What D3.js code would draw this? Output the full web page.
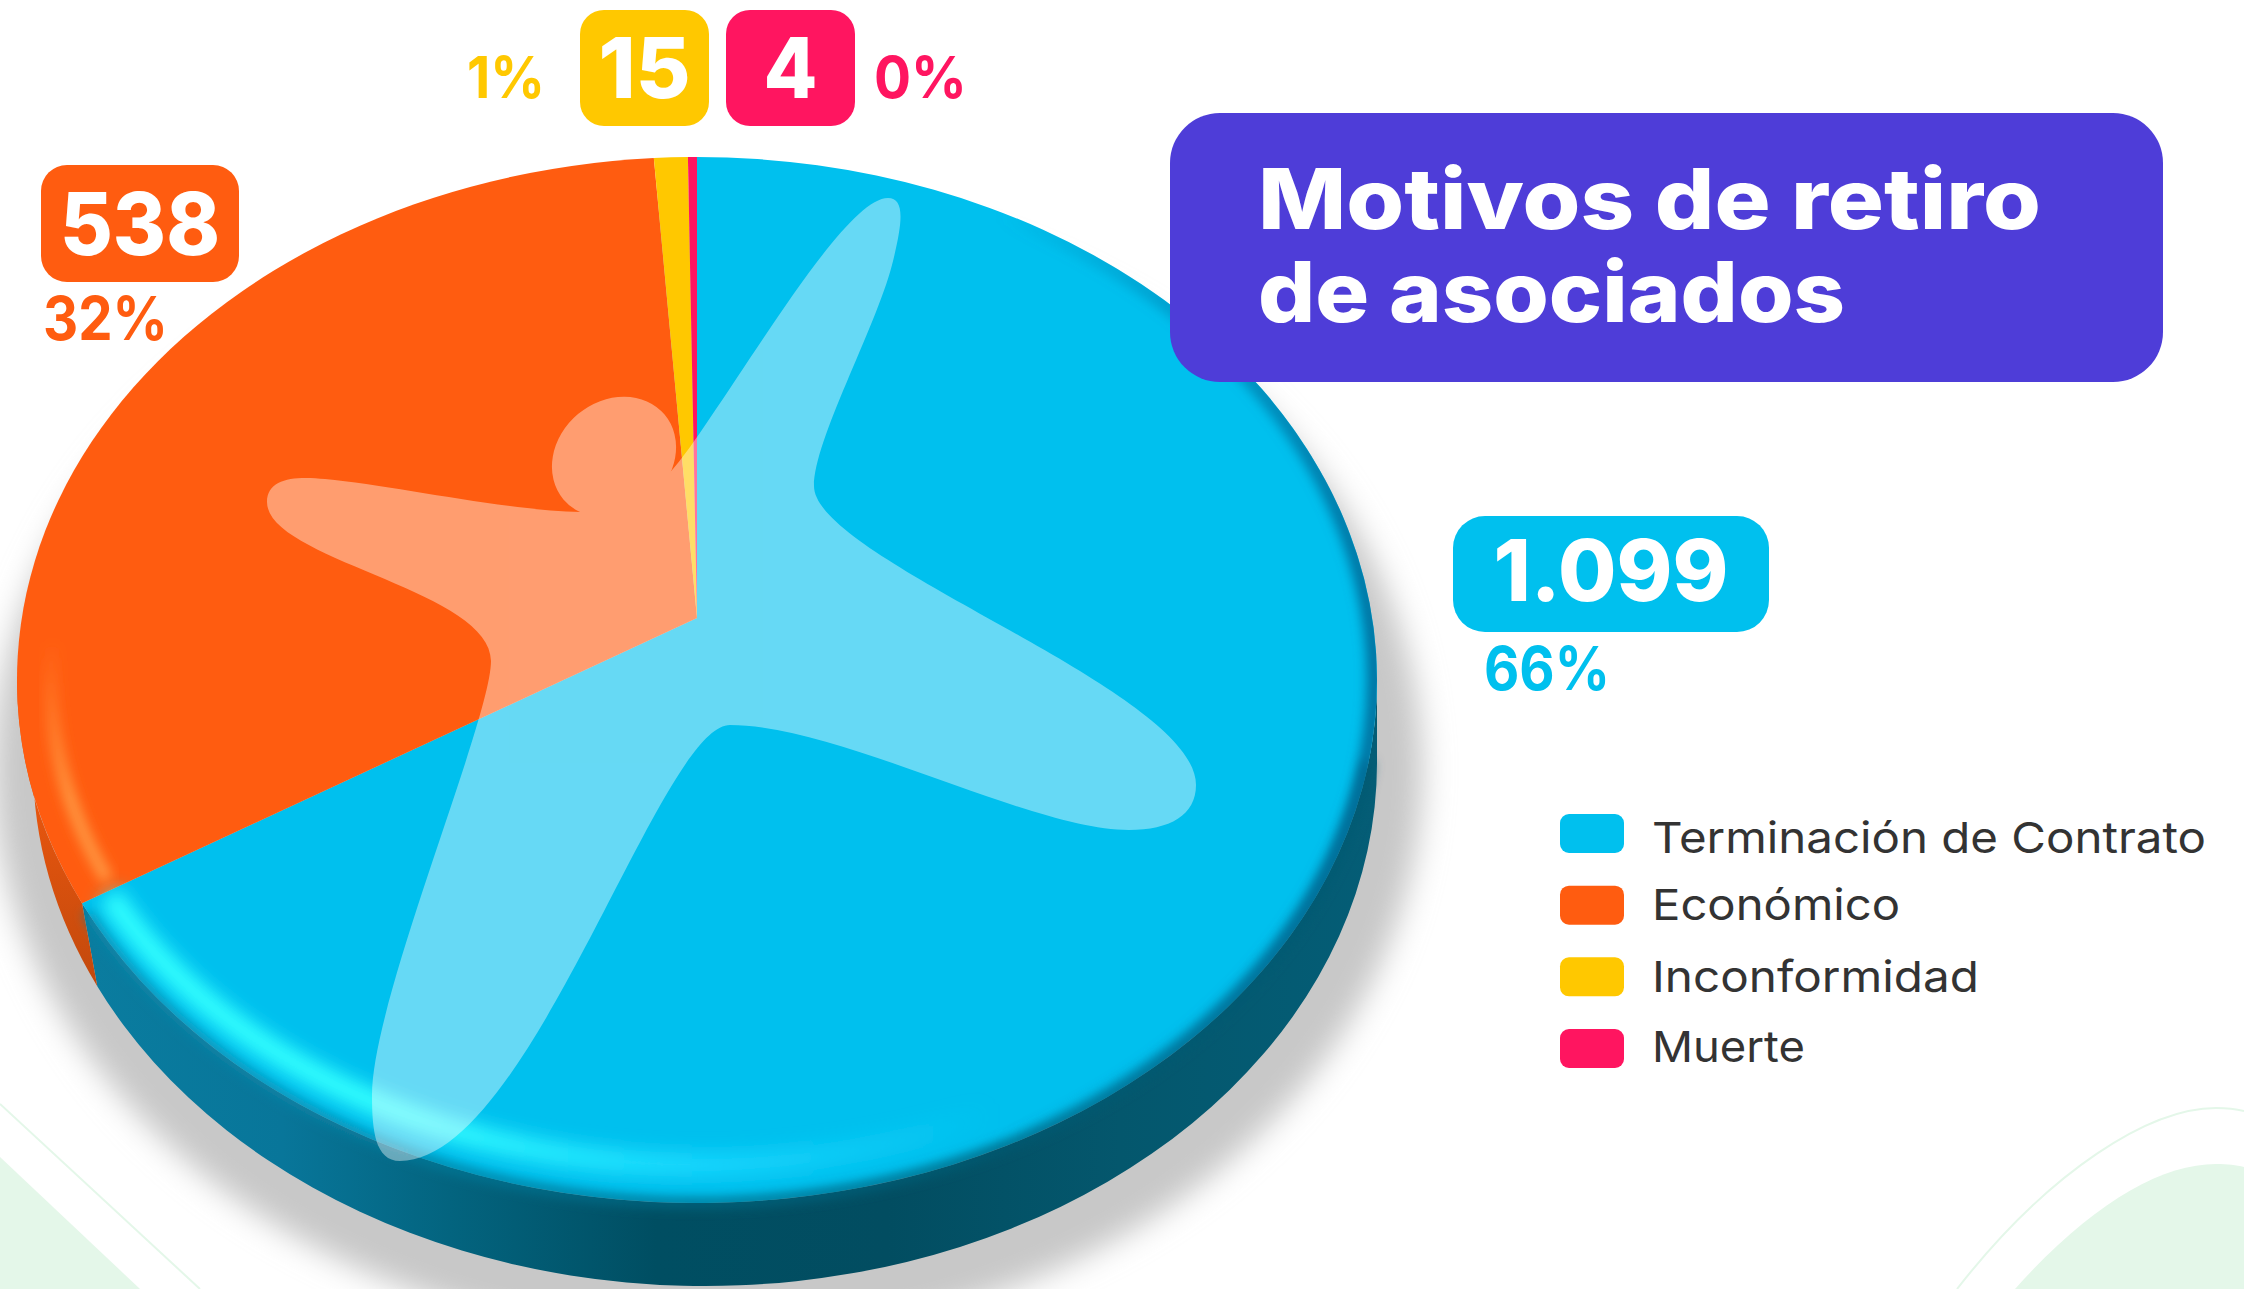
<!DOCTYPE html>
<html>
<head>
<meta charset="utf-8">
<script src="https://cdn.jsdelivr.net/npm/d3@7"></script>
<style>
  html, body { margin: 0; padding: 0; background: #fff; }
  svg { display: block; }
</style>
</head>
<body>
<div id="chart"></div>
<script>
// data
const categories = ["Terminación de Contrato", "Económico", "Inconformidad", "Muerte"];
const counts = [1099, 538, 15, 4];
const colors = ["#00c0ee", "#ff5c10", "#ffc800", "#ff1560"];

const width = 2244;
const height = 1289;

// pie geometry: the apex sits above the centre of the top ellipse
const topRim = { cx: 697, cy: 680, rx: 680, ry: 523 };
const lowRim = { cx: 705, cy: 763, rx: 672, ry: 523 };
const apexX = 697, apexY = 618;
const tilt = topRim.ry / topRim.rx;

const esNumber = d3.formatLocale({ decimal: ",", thousands: ".", grouping: [3] }).format(",d");
const pct = d3.format(".0%");
const total = d3.sum(counts);

const svg = d3.select("#chart").append("svg")
    .attr("width", width)
    .attr("height", height);
const defs = svg.append("defs");

function blur(id, dev) {
    defs.append("filter")
        .attr("id", id)
        .attr("x", "-20%").attr("y", "-20%")
        .attr("width", "140%").attr("height", "140%")
        .append("feGaussianBlur")
        .attr("stdDeviation", dev);
}
blur("soft-shadow", 15);
blur("soft-line", 9);
blur("soft-edge", 6);

function gradient(id, x1, y1, x2, y2, stops) {
    const g = defs.append("linearGradient")
        .attr("id", id)
        .attr("gradientUnits", "userSpaceOnUse")
        .attr("x1", x1).attr("x2", x2)
        .attr("y1", y1).attr("y2", y2);
    stops.forEach(s => g.append("stop")
        .attr("offset", s[0])
        .attr("stop-color", s[1])
        .attr("stop-opacity", s[2] === undefined ? 1 : s[2]));
}
gradient("side-blue", 89, 0, 1378, 0, [[0, "#0a7c9f"], [0.15, "#08769a"], [0.28, "#03647f"], [0.44, "#004e62"], [0.62, "#024d61"], [0.8, "#04576d"], [1, "#045d76"]]);
gradient("side-orange", 0, 800, 0, 1000, [[0, "#e8560f"], [1, "#bf480c"]]);
gradient("glow-blue", 90, 0, 1150, 0, [[0, "#33ffff"], [0.3, "#33ffff"], [0.58, "#1ad8ff", 0.9], [0.85, "#1ad8ff", 0]]);
gradient("glow-orange", 0, 640, 0, 800, [[0, "#ff9640", 0], [1, "#ff9640", 0.95]]);
gradient("edge-blue", 1000, 0, 1378, 0, [[0, "#0078a8", 0], [1, "#006a98", 0.95]]);
gradient("edge-low", 300, 0, 1000, 0, [[0, "#0a86a8", 0.9], [0.5, "#026a86", 0.9], [1, "#035a72", 0.95]]);

// point on the rim for a pie angle, seen from the off-centre apex
function rimPoint(angle) {
    const dx = Math.sin(angle) / topRim.rx, dy = -Math.cos(angle) * tilt / topRim.ry;
    const px = (apexX - topRim.cx) / topRim.rx, py = (apexY - topRim.cy) / topRim.ry;
    const a = dx * dx + dy * dy, b = 2 * (px * dx + py * dy), c = px * px + py * py - 1;
    const t = (-b + Math.sqrt(b * b - 4 * a * c)) / (2 * a);
    return [apexX + t * Math.sin(angle), apexY - t * Math.cos(angle) * tilt];
}

function rimParam(p) {
    const phi = Math.atan2((p[0] - topRim.cx) / topRim.rx, -(p[1] - topRim.cy) / topRim.ry);
    return phi < 0 ? phi + 2 * Math.PI : phi;
}

function onRim(rim, phi) {
    return [rim.cx + rim.rx * Math.sin(phi), rim.cy - rim.ry * Math.cos(phi)];
}

function inset(rim, dx, dy) {
    return { cx: rim.cx, cy: rim.cy, rx: rim.rx - dx, ry: rim.ry - dy };
}

function arcTo(rim, phi0, phi1) {
    const p = onRim(rim, phi1);
    const large = Math.abs(phi1 - phi0) > Math.PI ? 1 : 0;
    const sweep = phi1 > phi0 ? 1 : 0;
    return `A${rim.rx},${rim.ry} 0 ${large} ${sweep} ${p[0]},${p[1]}`;
}

function rimStroke(rim, phi0, phi1) {
    return `M${onRim(rim, phi0)}` + arcTo(rim, phi0, phi1);
}

const slices = d3.pie().sort(null)(counts).map((d, i) => {
    const start = rimPoint(d.startAngle), end = rimPoint(d.endAngle);
    return {
        i: i,
        start: start,
        end: end,
        phi0: d.startAngle === 0 ? 0 : rimParam(start),
        phi1: d.endAngle >= 2 * Math.PI - 1e-6 ? 2 * Math.PI : rimParam(end)
    };
});

// background decoration
const decor = svg.append("g");
decor.append("path")
    .attr("d", "M0,1157 L140,1289 L0,1289 Z")
    .attr("fill", "#e4f7e9");
decor.append("path")
    .attr("d", "M0,1104 L200,1289")
    .attr("fill", "none").attr("stroke", "#e4f7e9").attr("stroke-width", 2);
decor.append("path")
    .attr("d", "M2015,1289 C2090,1205 2160,1164 2216,1164 C2228,1164 2236,1165 2244,1167 L2244,1289 Z")
    .attr("fill", "#e4f7e9");
decor.append("path")
    .attr("d", "M1957,1289 C2050,1170 2150,1108 2216,1108 C2228,1108 2236,1109 2244,1111")
    .attr("fill", "none").attr("stroke", "#e4f7e9").attr("stroke-width", 2);

// drop shadow behind the body
svg.append("ellipse")
    .attr("cx", 708).attr("cy", 770)
    .attr("rx", 715).attr("ry", 572)
    .attr("fill", "#c8c8c8")
    .attr("filter", "url(#soft-shadow)");

// side wall, only the part of each slice facing the viewer
const sideFill = ["url(#side-blue)", "url(#side-orange)", "#c89d00", "#c01048"];
svg.append("g").selectAll("path")
    .data(slices.filter(s => Math.max(s.phi0, Math.PI / 2) < Math.min(s.phi1, 3 * Math.PI / 2)))
    .enter().append("path")
    .attr("d", s => {
        const a = Math.max(s.phi0, Math.PI / 2), b = Math.min(s.phi1, 3 * Math.PI / 2);
        return `M${onRim(topRim, a)}` + arcTo(topRim, a, b)
            + `L${onRim(lowRim, b)}` + arcTo(lowRim, b, a) + "Z";
    })
    .attr("fill", s => sideFill[s.i]);

// top face
const face = svg.append("g");
face.selectAll("path")
    .data(slices)
    .enter().append("path")
    .attr("d", s => {
        const large = s.phi1 - s.phi0 > Math.PI ? 1 : 0;
        return `M${apexX},${apexY}L${s.start}A${topRim.rx},${topRim.ry} 0 ${large} 1 ${s.end}Z`;
    })
    .attr("fill", s => colors[s.i]);

// soft dark line where the face meets the wall
const blueSlice = slices[0], orangeSlice = slices[1];
svg.append("path")
    .attr("d", rimStroke(topRim, blueSlice.phi1 - 0.02, Math.PI * 0.55))
    .attr("fill", "none")
    .attr("stroke", "url(#edge-low)")
    .attr("stroke-width", 10)
    .attr("filter", "url(#soft-edge)");

// bevel highlights along the rim
svg.append("path")
    .attr("d", rimStroke(inset(topRim, 24, 38), blueSlice.phi1 - 0.02, Math.PI * 0.72))
    .attr("fill", "none")
    .attr("stroke", "url(#glow-blue)")
    .attr("stroke-width", 24)
    .attr("filter", "url(#soft-line)");
svg.append("path")
    .attr("d", rimStroke(inset(topRim, 34, 34), orangeSlice.phi0 + 0.02, Math.PI * 1.58))
    .attr("fill", "none")
    .attr("stroke", "url(#glow-orange)")
    .attr("stroke-width", 14)
    .attr("filter", "url(#soft-edge)");

// darker soft edge on the right of the face
defs.append("clipPath").attr("id", "face-clip")
    .append("ellipse")
    .attr("cx", topRim.cx).attr("cy", topRim.cy)
    .attr("rx", topRim.rx).attr("ry", topRim.ry);
svg.append("g").attr("clip-path", "url(#face-clip)")
    .append("ellipse")
    .attr("cx", topRim.cx).attr("cy", topRim.cy)
    .attr("rx", topRim.rx - 2).attr("ry", topRim.ry - 2)
    .attr("fill", "none")
    .attr("stroke", "url(#edge-blue)")
    .attr("stroke-width", 16)
    .attr("filter", "url(#soft-edge)");

// translucent logo over the pie (decoration, not data)
const logo = svg.append("g").attr("opacity", 0.4);
logo.append("path")
    .attr("d", "M267,502 C267,478 295,476 325,479 C400,486 520,514 596,512 C650,510 680,462 710,418"
        + " C770,330 850,198 888,198 C905,198 903,222 892,265 C875,330 814,440 814,486"
        + " C814,560 1196,690 1196,785 C1196,815 1170,830 1129,830 C1030,830 840,725 730,725"
        + " C660,725 530,1161 400,1161 C375,1161 372,1130 372,1095 C372,1000 491,720 491,661"
        + " C491,590 267,560 267,502 Z")
    .attr("fill", "#fff");
logo.append("ellipse")
    .attr("cx", 614).attr("cy", 457)
    .attr("rx", 66).attr("ry", 56)
    .attr("transform", "rotate(-40 614 457)")
    .attr("fill", "#fff");

// value boxes and percent labels, same order as categories
const boxLayout = [
    { x: 1453, y: 516, w: 316, h: 116, r: 32, base: 601, size: 85, tw: 235, px: 1484, pbase: 690, psize: 60, pw: 126 },
    { x: 41, y: 165, w: 198, h: 117, r: 26, base: 255, size: 86, tw: 160, px: 43, pbase: 340, psize: 60, pw: 125 },
    { x: 580, y: 10, w: 129, h: 116, r: 24, base: 98, size: 84, tw: 92, px: 467, pbase: 98, psize: 58, pw: 78 },
    { x: 726, y: 10, w: 129, h: 116, r: 24, base: 98, size: 84, tw: 54, px: 874, pbase: 98, psize: 58, pw: 93 }
];
const fontBold = "Inter";
const labels = svg.append("g").selectAll("g")
    .data(counts)
    .enter().append("g");
labels.append("rect")
    .attr("x", (d, i) => boxLayout[i].x)
    .attr("y", (d, i) => boxLayout[i].y)
    .attr("width", (d, i) => boxLayout[i].w)
    .attr("height", (d, i) => boxLayout[i].h)
    .attr("rx", (d, i) => boxLayout[i].r)
    .attr("fill", (d, i) => colors[i]);
labels.append("text")
    .attr("x", (d, i) => boxLayout[i].x + boxLayout[i].w / 2)
    .attr("y", (d, i) => boxLayout[i].base)
    .attr("text-anchor", "middle")
    .attr("fill", "#fff")
    .style("font-family", fontBold)
    .style("font-weight", 800)
    .style("font-size", (d, i) => boxLayout[i].size + "px")
    .attr("textLength", (d, i) => boxLayout[i].tw)
    .attr("lengthAdjust", "spacingAndGlyphs")
    .text(d => esNumber(d));
labels.append("text")
    .attr("x", (d, i) => boxLayout[i].px)
    .attr("y", (d, i) => boxLayout[i].pbase)
    .attr("fill", (d, i) => colors[i])
    .style("font-family", fontBold)
    .style("font-weight", 700)
    .style("font-size", (d, i) => boxLayout[i].psize + "px")
    .attr("textLength", (d, i) => boxLayout[i].pw)
    .attr("lengthAdjust", "spacingAndGlyphs")
    .text(d => pct(d / total));

// title
svg.append("rect")
    .attr("x", 1170).attr("y", 113)
    .attr("width", 993).attr("height", 269)
    .attr("rx", 50)
    .attr("fill", "#4e3dd8");
const titleLines = [["Motivos de retiro", 229, 783], ["de asociados", 322, 587]];
svg.append("g").selectAll("text")
    .data(titleLines)
    .enter().append("text")
    .attr("x", 1258)
    .attr("y", d => d[1])
    .attr("fill", "#fff")
    .style("font-family", fontBold)
    .style("font-weight", 800)
    .style("font-size", "84px")
    .attr("textLength", d => d[2])
    .attr("lengthAdjust", "spacingAndGlyphs")
    .text(d => d[0]);

// legend
const legendY = d3.scalePoint().domain(categories).range([814, 1029]);
const legendWidths = [554, 248, 327, 153];
const legendBase = [39, 34, 35, 33];
const legend = svg.append("g").selectAll("g")
    .data(categories)
    .enter().append("g")
    .attr("transform", d => `translate(0,${legendY(d)})`);
legend.append("rect")
    .attr("x", 1560).attr("y", 0)
    .attr("width", 64).attr("height", 39)
    .attr("rx", 9)
    .attr("fill", (d, i) => colors[i]);
legend.append("text")
    .attr("x", 1652)
    .attr("y", (d, i) => legendBase[i])
    .attr("fill", "#333")
    .style("font-family", "Inter")
    .style("font-weight", 400)
    .style("font-size", "43px")
    .attr("textLength", (d, i) => legendWidths[i])
    .attr("lengthAdjust", "spacingAndGlyphs")
    .text(d => d);
</script>
</body>
</html>
